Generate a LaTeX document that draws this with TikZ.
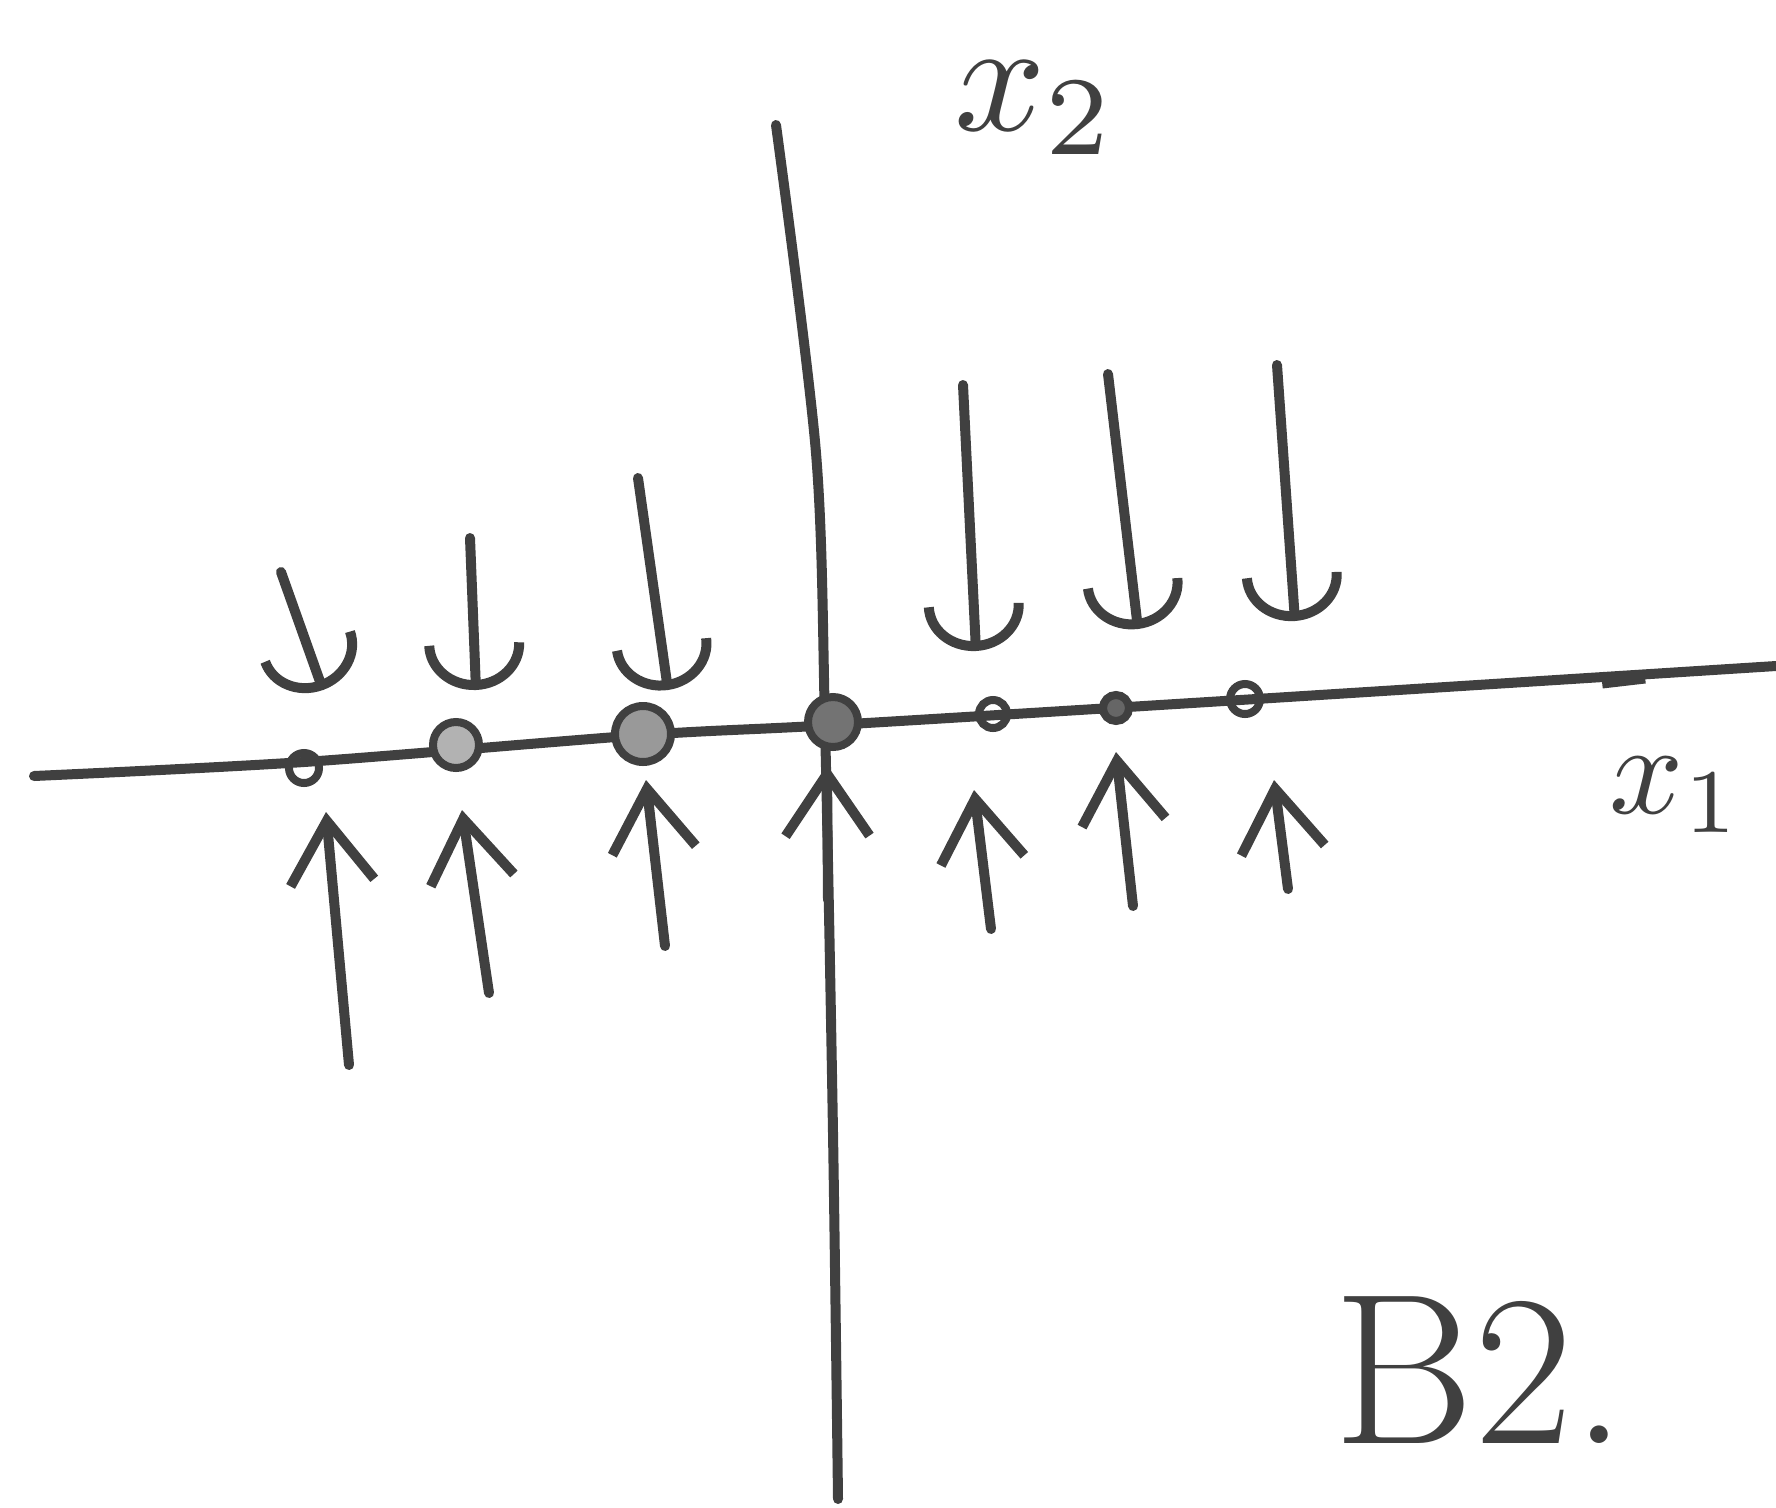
\documentclass[tikz,border=0pt]{standalone}
\usetikzlibrary{arrows.meta}
\begin{document}
\begin{tikzpicture}[x=1pt,y=-1pt,
  ink/.style={draw=black!75, line width=10pt, line cap=round, line join=round},
  downflow/.style={ink, -{Arc Barb[length=46pt,width=100pt]}},
  upflow/.style={ink, -{Straight Barb[length=62pt,width=84pt]}},
  pt/.style={circle, draw=black!75, line width=8pt, inner sep=0pt},
  lbl/.style={text=black!75}]
\useasboundingbox (0,0) rectangle (1776,1507);
% axes
\draw[ink] plot[smooth] coordinates {(34,776) (304,762) (643,735) (833,725) (1240,700) (1776,666)};
\draw[ink] plot[smooth] coordinates {(776,125) (816,453) (825,725) (833,1133) (838,1499)};
\draw[draw=black!75, line width=13pt] (1602,682) -- (1645,677);
% labels
\node[lbl, scale=16] (x2) at (1036,108) {$x_2$};
\node[lbl, scale=13] (x1) at (1676,795) {$x_1$};
\node[lbl, font=\fontsize{215}{215}\selectfont] (cap) at (1480,1370) {B2.};
% equilibrium points
\node[pt, minimum width=18pt, minimum height=30pt] (p1) at (304,768) {};
\node[pt, minimum width=46pt, minimum height=36pt, fill=black!30] (p2) at (456,745) {};
\node[pt, minimum width=56pt, minimum height=36pt, fill=black!40] (p3) at (643,734) {};
\node[pt, minimum width=50pt, minimum height=36pt, fill=black!55] (p4) at (833,722) {};
\node[pt, minimum size=28pt] (p5) at (993,714) {};
\node[pt, minimum size=26pt, fill=black!60] (p6) at (1116,708) {};
\node[pt, minimum size=30pt] (p7) at (1245,699) {};
% arrows from above
\coordinate (a1) at (281,572); \coordinate (b1) at (323,690);
\coordinate (a2) at (470,538); \coordinate (b2) at (476,690);
\coordinate (a3) at (638,478); \coordinate (b3) at (668,690);
\coordinate (a4) at (963,385); \coordinate (b4) at (976,651);
\coordinate (a5) at (1108,374); \coordinate (b5) at (1138,629);
\coordinate (a6) at (1277,365); \coordinate (b6) at (1295,621);
\foreach \i in {1,...,6} \draw[downflow] (a\i) -- (b\i);
% arrows from below
\coordinate (c1) at (349,1065); \coordinate (d1) at (326,812);
\coordinate (c2) at (489,993); \coordinate (d2) at (462,810);
\coordinate (c3) at (665,946); \coordinate (d3) at (646,780);
\coordinate (c4) at (828,900); \coordinate (d4) at (827,765);
\coordinate (c5) at (991,929); \coordinate (d5) at (974,790);
\coordinate (c6) at (1133,906); \coordinate (d6) at (1116,752);
\coordinate (c7) at (1288,889); \coordinate (d7) at (1274,780);
\foreach \i in {1,...,7} \draw[upflow] (c\i) -- (d\i);
\end{tikzpicture}
\end{document}
